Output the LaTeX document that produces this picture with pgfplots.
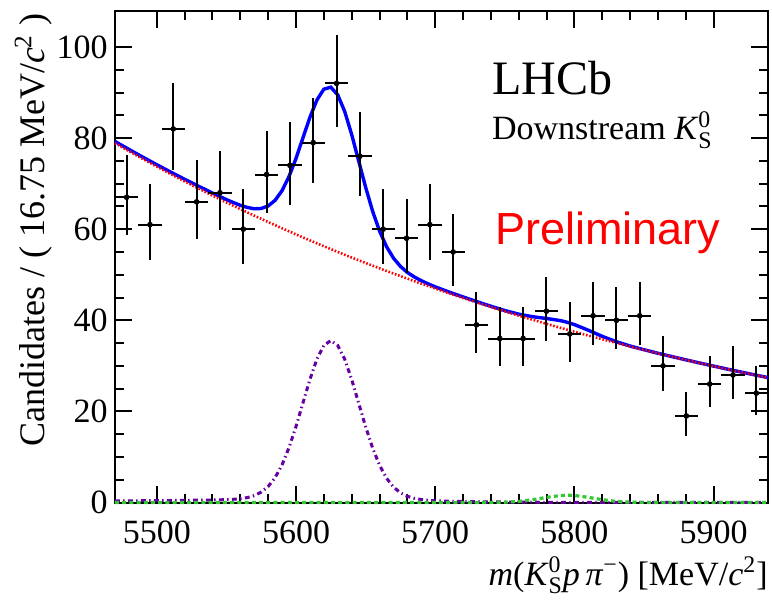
\documentclass[border=0pt]{standalone}
\usepackage{pgfplots}
\pgfplotsset{compat=1.18}
\usepackage{pgfplotstable}
\usepackage{amsmath}
\usepackage{fontspec}
\setmainfont{Liberation Serif}
\newfontfamily\arialfont{Liberation Sans}

\definecolor{rootblue}{RGB}{0,0,255}
\definecolor{rootred}{RGB}{255,0,0}
\definecolor{rootviolet}{RGB}{102,0,160}
\definecolor{rootgreen}{RGB}{50,200,50}

\pgfplotstableread{
x y ex eyp eym
5478.375 67 8.375 9.185 8.185
5495.125 61 8.375 8.810 7.810
5511.875 82 8.375 10.055 9.055
5528.625 66 8.375 9.124 8.124
5545.375 68 8.375 9.246 8.246
5562.125 60 8.375 8.746 7.746
5578.875 72 8.375 9.485 8.485
5595.625 74 8.375 9.602 8.602
5612.375 79 8.375 9.888 8.888
5629.125 92 8.375 10.592 9.592
5645.875 76 8.375 9.718 8.718
5662.625 60 8.375 8.746 7.746
5679.375 58 8.375 8.616 7.616
5696.125 61 8.375 8.810 7.810
5712.875 55 8.375 8.416 7.416
5729.625 39 8.375 7.245 6.245
5746.375 36 8.375 7.000 6.000
5763.125 36 8.375 7.000 6.000
5779.875 42 8.375 7.481 6.481
5796.625 37 8.375 7.083 6.083
5813.375 41 8.375 7.403 6.403
5830.125 40 8.375 7.325 6.325
5846.875 41 8.375 7.403 6.403
5863.625 30 8.375 6.477 5.477
5880.375 19 8.375 5.359 4.359
5897.125 26 8.375 6.099 5.099
5913.875 28 8.375 6.292 5.292
5930.625 24 8.375 5.899 4.899
}\datatable

\pgfplotstableread{
x y
5470 78.90
5480 77.14
5490 75.42
5500 73.74
5510 72.09
5520 70.49
5530 68.92
5540 67.38
5550 65.87
5560 64.41
5570 62.97
5580 61.57
5590 60.19
5600 58.85
5610 57.54
5620 56.25
5630 55.00
5640 53.77
5650 52.58
5660 51.40
5670 50.26
5680 49.14
5690 48.04
5700 46.97
5710 45.92
5720 44.90
5730 43.90
5740 42.92
5750 41.96
5760 41.02
5770 40.11
5780 39.21
5790 38.34
5800 37.48
5810 36.65
5820 35.83
5830 35.03
5840 34.25
5850 33.49
5860 32.74
5870 32.01
5880 31.30
5890 30.60
5900 29.92
5910 29.25
5920 28.60
5930 27.96
5939 27.40
}\bkgtable

\pgfplotstableread{
x y
5470 0.35
5480 0.37
5490 0.39
5500 0.41
5510 0.44
5520 0.47
5530 0.51
5540 0.55
5550 0.63
5555 0.71
5560 0.84
5565 1.08
5570 1.51
5575 2.28
5580 3.52
5585 5.46
5590 8.28
5595 12.05
5600 16.68
5605 21.86
5610 27.02
5615 31.46
5620 34.48
5625 35.55
5630 34.47
5635 31.44
5640 26.99
5645 21.82
5650 16.63
5655 11.98
5660 8.19
5665 5.35
5670 3.39
5675 2.13
5680 1.36
5685 0.92
5690 0.65
5695 0.48
5700 0.37
5710 0.27
5720 0.22
5730 0.18
5740 0.14
5750 0.11
5760 0.08
5770 0.06
5780 0.05
5790 0.04
5800 0.03
5820 0.03
5850 0.02
5900 0.02
5939 0.02
}\sigtable

\pgfplotstableread{
x y
5470 0.0
5600 0.0
5730 0.0
5740 0.02
5750 0.07
5760 0.24
5770 0.61
5780 1.13
5790 1.54
5795 1.60
5800 1.54
5810 1.13
5820 0.61
5830 0.24
5840 0.07
5850 0.02
5860 0.0
5939 0.0
}\xitable

\pgfplotstableread{
x y
5470 79.25
5480 77.51
5490 75.81
5500 74.15
5510 72.53
5520 70.96
5530 69.43
5540 67.93
5550 66.50
5555 65.84
5560 65.25
5565 64.77
5570 64.48
5575 64.54
5580 65.09
5585 66.34
5590 68.47
5595 71.57
5600 75.53
5605 80.05
5610 84.56
5615 88.35
5620 90.73
5625 91.17
5630 89.47
5635 85.82
5640 80.76
5645 74.99
5650 69.21
5655 63.97
5660 59.59
5665 56.17
5670 53.65
5675 51.83
5680 50.50
5685 49.51
5690 48.69
5695 47.98
5700 47.34
5710 46.19
5720 45.12
5730 44.08
5740 43.08
5750 42.14
5760 41.34
5770 40.78
5780 40.39
5790 39.92
5795 39.55
5800 39.05
5810 37.81
5820 36.47
5830 35.30
5840 34.35
5850 33.53
5860 32.76
5870 32.03
5880 31.32
5890 30.62
5900 29.94
5910 29.27
5920 28.62
5930 27.98
5939 27.42
}\totaltable

\begin{document}
\begin{tikzpicture}
\useasboundingbox (-57.5pt,-49.25pt) rectangle (328.5pt,251.25pt);
\begin{axis}[
  scale only axis,
  width=326.5pt, height=246pt,
  at={(0pt,0pt)}, anchor=south west,
  xmin=5470, xmax=5939, ymin=0, ymax=108,
  clip=false,
  xtick={5500,5600,5700,5800,5900},
  minor x tick num=4,
  ytick={0,20,40,60,80,100},
  minor y tick num=3,
  tick align=inside,
  major tick length=8.5pt,
  minor tick length=4.5pt,
  axis line style={line width=1pt, black},
  every tick/.style={black, line width=1pt},
  /pgf/number format/assume math mode=true,
  /pgf/number format/1000 sep={},
  xticklabel style={font=\rmfamily\fontsize{17}{20}\selectfont, anchor=base, inner sep=0pt, yshift=-20.25pt},
  yticklabel style={font=\rmfamily\fontsize{17}{20}\selectfont, anchor=east, inner sep=0pt, xshift=-3.5pt},
  xlabel={\textit{m}(\textit{K}$^{\text{0}}_{\text{S}}$\textit{p\,π}$^{\text{−}}$) [MeV/\textit{c}$^{\text{2}}$]},
  xlabel style={font=\rmfamily\fontsize{17}{20}\selectfont, at={(axis description cs:1,-0.1677)}, anchor=base east, inner sep=0pt},
  ylabel={Candidates / ( 16.75 MeV/\textit{c}$^{\text{2}}$ )},
  ylabel style={font=\rmfamily\fontsize{18}{21}\selectfont, at={(axis description cs:-0.1087,0.9949)}, anchor=base east, inner sep=0pt},
]
\addplot[rootblue, line width=1.7pt] table[x=x, y=y] {\totaltable};
\addplot[rootred, line width=1.3pt, dash pattern=on 0.8pt off 0.9pt] table[x=x, y=y] {\bkgtable};
\addplot[rootviolet, line width=1.5pt, dash pattern=on 2.4pt off 1.7pt on 0.7pt off 1.7pt] table[x=x, y=y] {\sigtable};
\addplot[rootgreen, line width=1.6pt, dash pattern=on 2pt off 1.6pt] table[x=x, y=y] {\xitable};
\addplot[only marks, mark=*, mark size=1.2pt, black,
  error bars/.cd, x dir=both, x explicit, y dir=both, y explicit,
  error bar style={line width=1pt, black}, error mark=none]
  table[x=x, y=y, x error=ex, y error plus=eyp, y error minus=eym] {\datatable};
\node[anchor=base west, inner sep=0pt, font=\rmfamily\fontsize{24}{28}\selectfont] at (axis description cs:0.5769,0.8283) {LHCb};
\node[anchor=base west, inner sep=0pt, font=\rmfamily\fontsize{17}{20}\selectfont] at (axis description cs:0.5769,0.7368) {Downstream \textit{K}$^{\text{0}}_{\text{S}}$};
\node[anchor=base west, inner sep=0pt, text=rootred, font=\arialfont\fontsize{22.5}{26}\selectfont] at (axis description cs:0.5819,0.5254) {Preliminary};
\end{axis}
\end{tikzpicture}
\end{document}
